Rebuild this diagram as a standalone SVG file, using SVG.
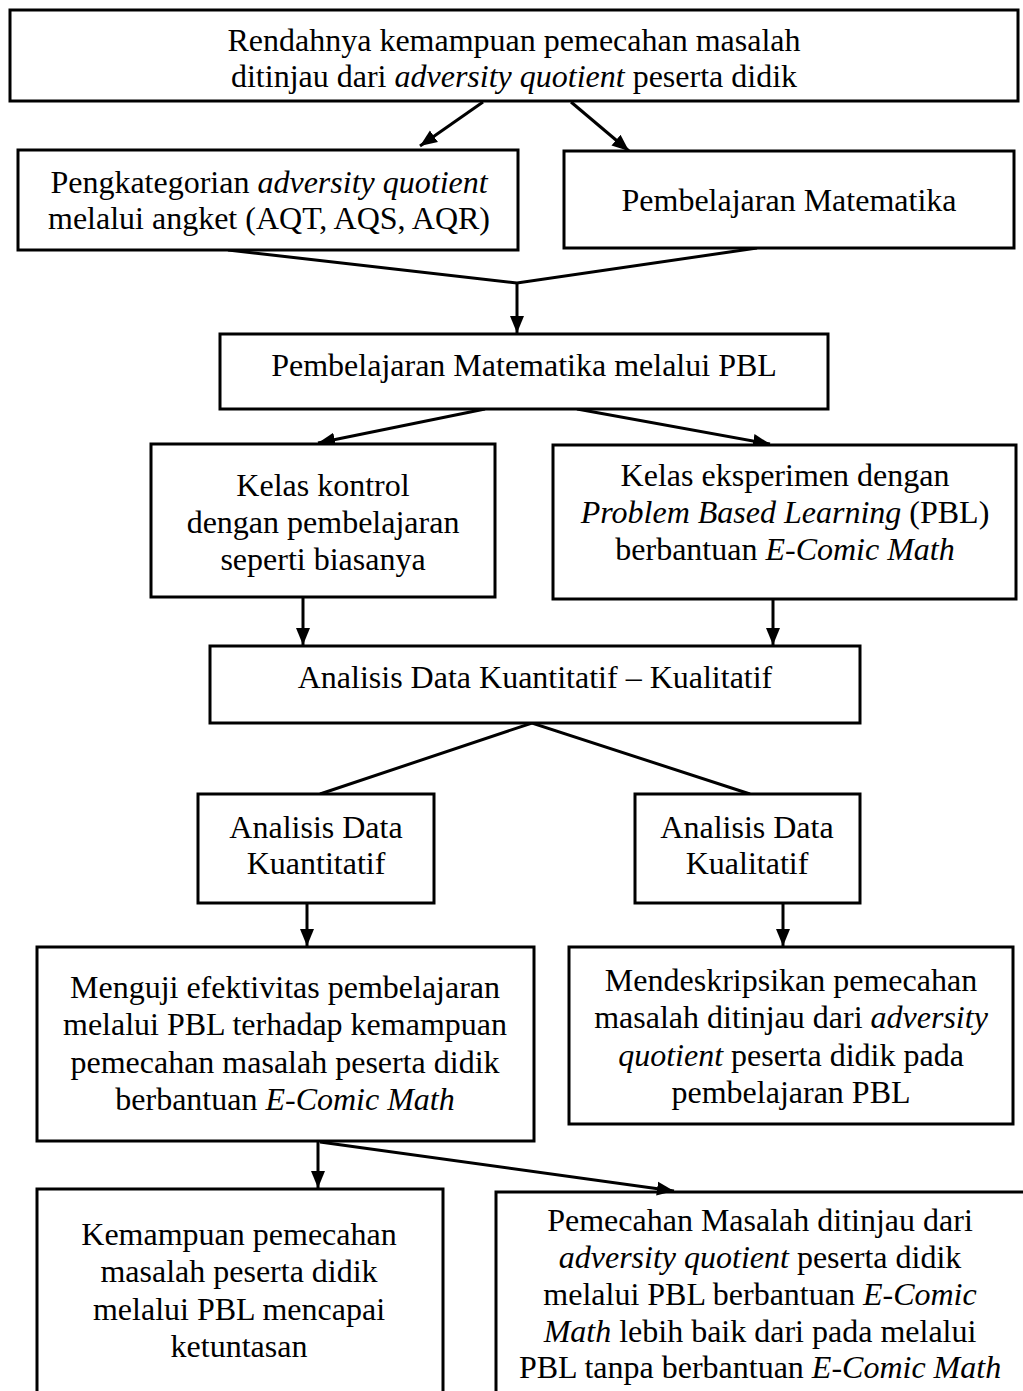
<svg xmlns="http://www.w3.org/2000/svg" width="1023" height="1391" viewBox="0 0 1023 1391">
<style>
.box{fill:#fff;stroke:#000;stroke-width:3}
.open{fill:none;stroke:#000;stroke-width:3}
.t{font-family:"Liberation Serif","Times New Roman",serif;font-size:32px;fill:#000;text-anchor:middle}
.i{font-style:italic}
.c{fill:none;stroke:#000;stroke-width:3}
</style>
<defs>
<marker id="ah" markerUnits="userSpaceOnUse" markerWidth="18" markerHeight="16" refX="17" refY="8" orient="auto">
<path d="M0,1 L17,8 L0,15 Z" fill="#000"/>
</marker>
</defs>
<rect width="1023" height="1391" fill="#fff"/>
<g id="connectors">
<line class="c" x1="483" y1="102" x2="420" y2="146" marker-end="url(#ah)"/>
<line class="c" x1="571" y1="102" x2="629" y2="151" marker-end="url(#ah)"/>
<polyline class="c" points="228,250 517,283 757,248"/>
<line class="c" x1="517" y1="283" x2="517" y2="333" marker-end="url(#ah)"/>
<line class="c" x1="485" y1="409" x2="318" y2="443" marker-end="url(#ah)"/>
<line class="c" x1="577" y1="409" x2="770" y2="444" marker-end="url(#ah)"/>
<line class="c" x1="303" y1="597" x2="303" y2="645" marker-end="url(#ah)"/>
<line class="c" x1="773" y1="599" x2="773" y2="645" marker-end="url(#ah)"/>
<polyline class="c" points="320,794 532,723 750,794"/>
<line class="c" x1="307" y1="903" x2="307" y2="946" marker-end="url(#ah)"/>
<line class="c" x1="783" y1="903" x2="783" y2="946" marker-end="url(#ah)"/>
<line class="c" x1="318" y1="1141" x2="318" y2="1188" marker-end="url(#ah)"/>
<line class="c" x1="320" y1="1142" x2="674" y2="1191" marker-end="url(#ah)"/>
</g>
<g id="n1">
<rect class="box" x="10" y="10" width="1008" height="91"/>
<text class="t" x="514" y="51">Rendahnya kemampuan pemecahan masalah</text>
<text class="t" x="514" y="87">ditinjau dari <tspan class="i">adversity quotient</tspan> peserta didik</text>
</g>
<g id="n2">
<rect class="box" x="18" y="150" width="500" height="100"/>
<text class="t" x="269" y="193">Pengkategorian <tspan class="i">adversity quotient</tspan></text>
<text class="t" x="269" y="229">melalui angket (AQT, AQS, AQR)</text>
</g>
<g id="n3">
<rect class="box" x="564" y="151" width="450" height="97"/>
<text class="t" x="789" y="211">Pembelajaran Matematika</text>
</g>
<g id="n4">
<rect class="box" x="220" y="334" width="608" height="75"/>
<text class="t" x="524" y="376">Pembelajaran Matematika melalui PBL</text>
</g>
<g id="n5">
<rect class="box" x="151" y="444" width="344" height="153"/>
<text class="t" x="323" y="496">Kelas kontrol</text>
<text class="t" x="323" y="533">dengan pembelajaran</text>
<text class="t" x="323" y="570">seperti biasanya</text>
</g>
<g id="n6">
<rect class="box" x="553" y="445" width="463" height="154"/>
<text class="t" x="785" y="486">Kelas eksperimen dengan</text>
<text class="t" x="785" y="523"><tspan class="i">Problem Based Learning</tspan> (PBL)</text>
<text class="t" x="785" y="560">berbantuan <tspan class="i">E-Comic Math</tspan></text>
</g>
<g id="n7">
<rect class="box" x="210" y="646" width="650" height="77"/>
<text class="t" x="535" y="688">Analisis Data Kuantitatif – Kualitatif</text>
</g>
<g id="n8">
<rect class="box" x="198" y="794" width="236" height="109"/>
<text class="t" x="316" y="838">Analisis Data</text>
<text class="t" x="316" y="874">Kuantitatif</text>
</g>
<g id="n9">
<rect class="box" x="635" y="794" width="225" height="109"/>
<text class="t" x="747" y="838">Analisis Data</text>
<text class="t" x="747" y="874">Kualitatif</text>
</g>
<g id="n10">
<rect class="box" x="37" y="947" width="497" height="194"/>
<text class="t" x="285" y="998">Menguji efektivitas pembelajaran</text>
<text class="t" x="285" y="1035">melalui PBL terhadap kemampuan</text>
<text class="t" x="285" y="1073">pemecahan masalah peserta didik</text>
<text class="t" x="285" y="1110">berbantuan <tspan class="i">E-Comic Math</tspan></text>
</g>
<g id="n11">
<rect class="box" x="569" y="947" width="444" height="177"/>
<text class="t" x="791" y="991">Mendeskripsikan pemecahan</text>
<text class="t" x="791" y="1028">masalah ditinjau dari <tspan class="i">adversity</tspan></text>
<text class="t" x="791" y="1066"><tspan class="i">quotient</tspan> peserta didik pada</text>
<text class="t" x="791" y="1103">pembelajaran PBL</text>
</g>
<g id="n12">
<path class="open" d="M37,1395 V1189 H443 V1395"/>
<text class="t" x="239" y="1245">Kemampuan pemecahan</text>
<text class="t" x="239" y="1282">masalah peserta didik</text>
<text class="t" x="239" y="1320">melalui PBL mencapai</text>
<text class="t" x="239" y="1357">ketuntasan</text>
</g>
<g id="n13">
<path class="open" d="M496,1395 V1192 H1026"/>
<text class="t" x="760" y="1231">Pemecahan Masalah ditinjau dari</text>
<text class="t" x="760" y="1268"><tspan class="i">adversity quotient</tspan> peserta didik</text>
<text class="t" x="760" y="1305">melalui PBL berbantuan <tspan class="i">E-Comic</tspan></text>
<text class="t" x="760" y="1342"><tspan class="i">Math</tspan> lebih baik dari pada melalui</text>
<text class="t" x="760" y="1378">PBL tanpa berbantuan <tspan class="i">E-Comic Math</tspan></text>
</g>
</svg>
